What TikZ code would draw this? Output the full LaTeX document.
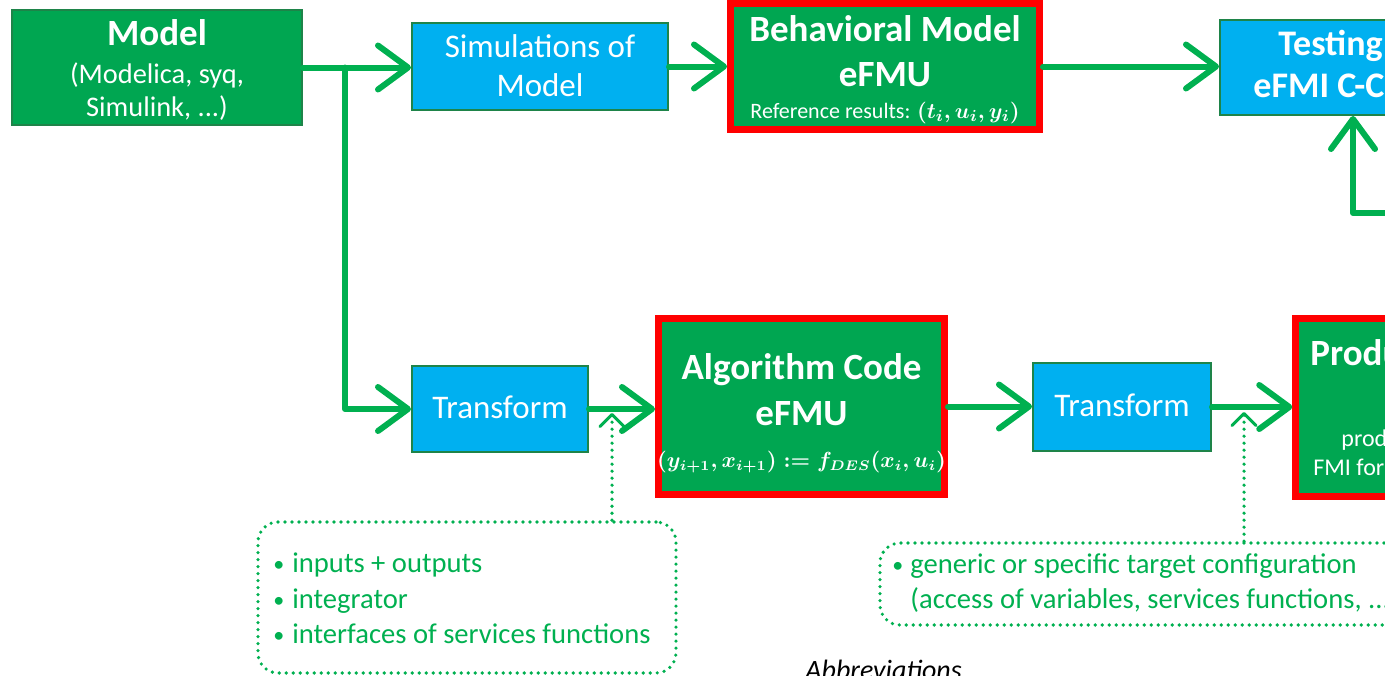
\documentclass[tikz,border=0pt]{standalone}
\usepackage{fontspec}
\setmainfont{Carlito}
\usetikzlibrary{arrows.meta,calc}
\definecolor{fgreen}{HTML}{00A651}
\definecolor{lgreen}{HTML}{00B050}
\definecolor{dgreen}{HTML}{1E8449}
\definecolor{bblue}{HTML}{00B0F0}
\definecolor{bred}{HTML}{FF0000}
\newcommand{\fsz}[1]{\fontsize{#1}{#1}\selectfont}
\newcommand{\bul}{\makebox[9.5pt][l]{\fsz{11pt}\raisebox{0.5pt}{•}}}
\newsavebox{\formbox}
\newsavebox{\refbox}
\begin{document}
\sbox{\formbox}{\color{white}\fsz{10.6pt}\boldmath$(y_{i+1},x_{i+1})\mathrel{{:}{=}}f_{DES}(x_i,u_i)$}%
\sbox{\refbox}{\color{white}\fsz{11pt}Reference results: \boldmath$(t_i,u_i,y_i)$}%
\begin{tikzpicture}[x=0.5pt,y=-0.5pt,
  gbox/.style={draw=dgreen, line width=1pt, fill=fgreen, inner sep=0pt},
  bbox/.style={draw=dgreen, line width=1pt, fill=bblue, inner sep=0pt},
  rbox/.style={draw=bred, line width=3.5pt, fill=fgreen, inner sep=0pt},
  notebox/.style={draw=lgreen, line width=1.8pt, dash pattern=on 0pt off 3.5pt, line cap=round, rounded corners=10pt, inner sep=0pt},
  wtxt/.style={text=white, inner sep=0pt, anchor=base},
  gtxt/.style={text=lgreen, inner sep=0pt, anchor=base west, font=\fsz{14.3pt}},
  arr/.style={draw=lgreen, line width=3pt, line cap=round, line join=round,
    -{Straight Barb[length=15pt,width=22pt,line width=3pt,round]}},
  darr/.style={draw=lgreen, line width=1.8pt, dash pattern=on 0pt off 3.5pt, line cap=round,
    -{Straight Barb[length=6pt,width=12pt,line width=1.5pt,round]}},
  title/.style={wtxt, font=\bfseries\fsz{18.5pt}},
  sub/.style={wtxt, font=\fsz{16.5pt}}
]
\useasboundingbox (0,0) rectangle (1385,675);
\clip (0,0) rectangle (1385,675);

% boxes
\node[gbox, minimum width=145pt, minimum height=57.5pt] (model) at (157,67.5) {};
\node[bbox, minimum width=128pt, minimum height=43.5pt] (sim) at (540,66.5) {};
\node[rbox, minimum width=154.5pt, minimum height=63pt] (beh) at (885,66.5) {};
\node[bbox, minimum width=133pt, minimum height=47.5pt] (test) at (1353,67.5) {};
\node[bbox, minimum width=88pt, minimum height=43pt] (tr1) at (500,409) {};
\node[rbox, minimum width=143pt, minimum height=88pt] (algo) at (801.5,406.5) {};
\node[bbox, minimum width=89pt, minimum height=44pt] (tr2) at (1122,407) {};
\node[rbox, minimum width=152pt, minimum height=89pt] (prod) at (1447.75,407.5) {};
\node[notebox, minimum width=209pt, minimum height=75.5pt] (n1) at (467,597.5) {};
\node[notebox, minimum width=360pt, minimum height=41pt] (n2) at (1240,584) {};

% texts
\node[title] (modelT) at (157,45) {Model};
\node[wtxt, font=\fsz{14.2pt}] (modelS1) at (157,83) {(Modelica, syq,};
\node[wtxt, font=\fsz{14.2pt}] (modelS2) at (157,116) {Simulink, ...)};
\node[sub] (simT1) at (540,57) {Simulations of};
\node[sub] (simT2) at (540,96) {Model};
\node[title] (behT1) at (885,41) {Behavioral Model};
\node[title] (behT2) at (885,86) {eFMU};
\node[wtxt] (behT3) at (885,118) {\usebox{\refbox}};
\node[wtxt, anchor=base west, font=\bfseries\fsz{18pt}] (testT1) at (1278,55) {Testing of};
\node[wtxt, anchor=base west, font=\bfseries\fsz{18pt}] (testT2) at (1253,97) {eFMI C-Code};
\node[sub] (tr1T) at (500,418) {Transform};
\node[title] (algoT1) at (801.5,379) {Algorithm Code};
\node[title] (algoT2) at (801.5,425) {eFMU};
\node[wtxt] (algoT3) at (801.5,467) {\usebox{\formbox}};
\node[sub] (tr2T) at (1122,416) {Transform};
\node[wtxt, anchor=base west, font=\bfseries\fsz{18.5pt}] (prodT1) at (1310,365) {Production Code};
\node[wtxt, anchor=base west, font=\fsz{12pt}] (prodT2) at (1341,446) {production code};
\node[wtxt, anchor=base west, font=\fsz{12pt}] (prodT3) at (1313,475) {FMI for embedded systems};

\node[gtxt] (n1a) at (273,572) {\bul inputs + outputs};
\node[gtxt] (n1b) at (273,608) {\bul integrator};
\node[gtxt] (n1c) at (273,643) {\bul interfaces of services functions};
\node[gtxt] (n2a) at (892,573) {\makebox[9pt][l]{\fsz{11pt}\raisebox{0.5pt}{•}}generic or specific target configuration};
\node[gtxt] (n2b) at (910,608) {(access of variables, services functions, ...)};
\node[inner sep=0pt, anchor=base west, font=\itshape\fsz{14pt}] (abbr) at (805,679) {Abbreviations};

% connectors
\coordinate (br) at (345,67.5);
\coordinate (tc) at (1400,213);
\coordinate (d1) at (612,413);
\coordinate (d2) at (1244,412);
\draw[arr] (model.east) -- (model.east -| sim.west);
\draw[arr] (br) |- (tr1.west);
\draw[arr] (sim.east) -- (sim.east -| beh.west);
\draw[arr] (beh.east) -- (beh.east -| test.west);
\draw[arr] (tc) -| (test.south);
\draw[arr] (tr1.east) -- (tr1.east -| algo.west);
\draw[arr] (algo.east) -- (algo.east -| tr2.west);
\draw[arr] (tr2.east) -- (tr2.east -| prod.west);
\draw[darr] (n1.north -| d1) -- (d1);
\draw[darr] (n2.north -| d2) -- (d2);
\end{tikzpicture}
\end{document}
